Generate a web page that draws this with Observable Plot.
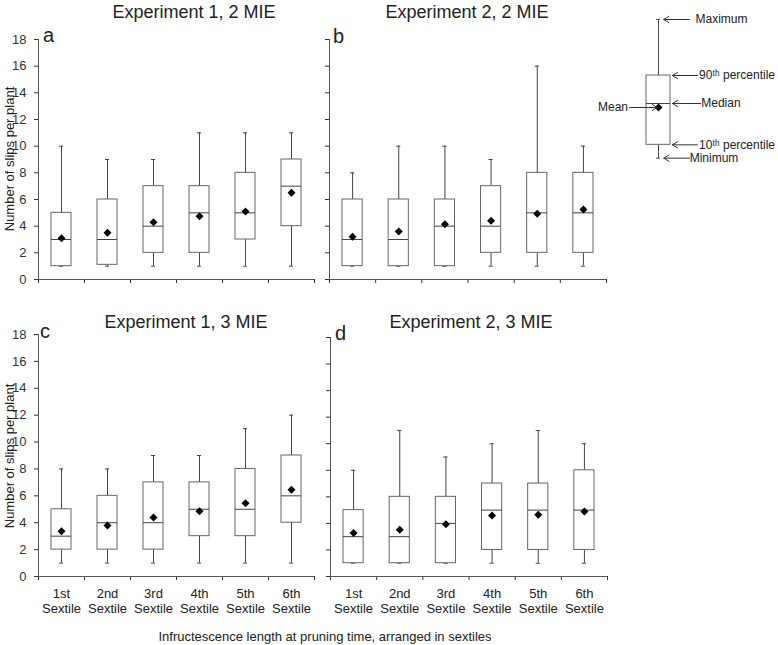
<!DOCTYPE html>
<html><head><meta charset="utf-8">
<script src="https://cdn.jsdelivr.net/npm/d3@7"></script>
<script src="https://cdn.jsdelivr.net/npm/@observablehq/plot@0.6"></script>
<style>
body{margin:0;background:#fff;}
#chart{position:relative;width:778px;height:645px;font-family:"Liberation Sans",Arial,sans-serif;color:#222;overflow:hidden;}
#chart > *{position:absolute;}
.lbl{white-space:nowrap;}
</style></head><body><div id="chart"></div>
<script>
// ---------- data ----------
const sextiles = ["1st", "2nd", "3rd", "4th", "5th", "6th"];
const yTicks = [0, 2, 4, 6, 8, 10, 12, 14, 16, 18];

// a: Experiment 1, 2 MIE
const aMin  = [1, 1, 1, 1, 1, 1];
const aP10  = [1, 1.1, 2, 2, 3, 4];
const aMed  = [3, 3, 4, 5, 5, 7];
const aP90  = [5, 6, 7, 7, 8, 9];
const aMax  = [10, 9, 9, 11, 11, 11];
const aMean = [3.1, 3.5, 4.3, 4.75, 5.1, 6.5];

// b: Experiment 2, 2 MIE
const bMin  = [1, 1, 1, 1, 1, 1];
const bP10  = [1, 1, 1, 2, 2, 2];
const bMed  = [3, 3, 4, 4, 5, 5];
const bP90  = [6, 6, 6, 7, 8, 8];
const bMax  = [8, 10, 10, 9, 16, 10];
const bMean = [3.2, 3.6, 4.15, 4.4, 4.93, 5.25];

// c: Experiment 1, 3 MIE
const cMin  = [1, 1, 1, 1, 1, 1];
const cP10  = [2, 2, 2, 3, 3, 4];
const cMed  = [3, 4, 4, 5, 5, 6];
const cP90  = [5, 6, 7, 7, 8, 9];
const cMax  = [8, 8, 9, 9, 11, 12];
const cMean = [3.37, 3.8, 4.38, 4.85, 5.45, 6.46];

// d: Experiment 2, 3 MIE
const dMin  = [1, 1, 1, 1, 1, 1];
const dP10  = [1, 1, 1, 2, 2, 2];
const dMed  = [3, 3, 4, 5, 5, 5];
const dP90  = [5, 6, 6, 7, 7, 8];
const dMax  = [8, 11, 9, 10, 11, 10];
const dMean = [3.28, 3.53, 3.93, 4.6, 4.65, 4.9];

const panelTitles = ["Experiment 1, 2 MIE", "Experiment 2, 2 MIE", "Experiment 1, 3 MIE", "Experiment 2, 3 MIE"];
const panelLetters = ["a", "b", "c", "d"];
const yTitle = "Number of slips per plant";
const xTitle = "Infructescence length at pruning time, arranged in sextiles";

// legend (schematic box)
const legendLabels = ["Maximum", "90ᵗʰ percentile", "Median", "10ᵗʰ percentile", "Minimum"];
const legendValues = [19.5, 15.3, 13.2, 10.1, 9.1];
const legendMean = 12.9;
const legendMeanLabel = "Mean";

// ---------- drawing ----------
const chart = document.getElementById("chart");
const axisColor = "#555";
const boxColor = "#666";
const whiskerColor = "#444";
const baseStyle = {fontFamily: "Liberation Sans, Arial, sans-serif", fontSize: "13px", color: "#333", background: "transparent", overflow: "visible"};

function panel(stats, cfg) {
  const rows = sextiles.map((s, i) => ({
    s, i, min: stats.min[i], p10: stats.p10[i], med: stats.med[i], p90: stats.p90[i], max: stats.max[i], mean: stats.mean[i]
  }));
  const lo = d => d.i, hi = d => d.i + 1, mid = d => d.i + 0.5;
  const marks = [
    Plot.ruleY([0], {stroke: axisColor}),
    Plot.ruleX([0], {stroke: axisColor}),
    Plot.ruleX(rows, {x: mid, y1: "min", y2: "p10", stroke: whiskerColor}),
    Plot.ruleX(rows, {x: mid, y1: "p90", y2: "max", stroke: whiskerColor}),
    Plot.ruleY(rows, {y: "max", x1: lo, x2: hi, insetLeft: 21, insetRight: 21, stroke: whiskerColor}),
    Plot.ruleY(rows, {y: "min", x1: lo, x2: hi, insetLeft: 21, insetRight: 21, stroke: whiskerColor}),
    Plot.rect(rows, {x1: lo, x2: hi, y1: "p10", y2: "p90", insetLeft: 13, insetRight: 13, fill: "white", stroke: boxColor}),
    Plot.ruleY(rows, {y: "med", x1: lo, x2: hi, insetLeft: 13, insetRight: 13, stroke: whiskerColor}),
    Plot.dot(rows, {x: mid, y: "mean", symbol: "diamond2", r: 3.6, fill: "black", stroke: "none"})
  ];
  if (cfg.xLabels) {
    marks.push(Plot.text(rows, {x: mid, text: d => d.s + "\nSextile", frameAnchor: "bottom", lineAnchor: "top", dy: 11, fontSize: 13, lineHeight: 1.15, fill: "#222"}));
  }
  const svg = Plot.plot({
    width: cfg.width, height: cfg.height,
    marginLeft: cfg.ml, marginRight: cfg.mr, marginTop: cfg.mt, marginBottom: cfg.mb,
    style: baseStyle,
    x: {domain: [0, 6], ticks: d3.range(7), tickSize: 4, tickFormat: () => "", label: null},
    y: {domain: [0, 18], ticks: yTicks, tickSize: 4, tickPadding: 8, tickFormat: cfg.yLabels ? d => String(d) : () => "", label: null},
    marks
  });
  svg.style.left = cfg.left + "px";
  svg.style.top = cfg.top + "px";
  chart.appendChild(svg);
}

panel({min: aMin, p10: aP10, med: aMed, p90: aP90, max: aMax, mean: aMean},
  {left: 0, top: 0, width: 320, height: 300, ml: 38, mr: 6, mt: 39, mb: 21, yLabels: true, xLabels: false});
panel({min: bMin, p10: bP10, med: bMed, p90: bP90, max: bMax, mean: bMean},
  {left: 320, top: 0, width: 300, height: 300, ml: 9, mr: 14, mt: 39, mb: 21, yLabels: false, xLabels: false});
panel({min: cMin, p10: cP10, med: cMed, p90: cP90, max: cMax, mean: cMean},
  {left: 0, top: 300, width: 320, height: 345, ml: 38, mr: 6, mt: 34, mb: 69, yLabels: true, xLabels: true});
panel({min: dMin, p10: dP10, med: dMed, p90: dP90, max: dMax, mean: dMean},
  {left: 320, top: 300, width: 300, height: 345, ml: 10, mr: 13, mt: 37, mb: 69, yLabels: false, xLabels: true});

// legend schematic
(function legend() {
  const box = {min: legendValues[4], p10: legendValues[3], med: legendValues[2], p90: legendValues[1], max: legendValues[0], mean: legendMean};
  const items = legendLabels.map((label, i) => ({label, value: legendValues[i], whisker: i === 0 || i === legendLabels.length - 1}));
  const svg = Plot.plot({
    width: 178, height: 175, margin: 0,
    style: {...baseStyle, fontSize: "12px"},
    x: {domain: [0, 1], range: [46, 70], axis: null},
    y: {domain: [0, 18], range: [279, 39], axis: null},
    marks: [
      Plot.ruleX([box], {x: 0.5, y1: "min", y2: "p10", stroke: whiskerColor}),
      Plot.ruleX([box], {x: 0.5, y1: "p90", y2: "max", stroke: whiskerColor}),
      Plot.ruleY([box], {y: "max", x1: 0.42, x2: 0.58, stroke: whiskerColor}),
      Plot.ruleY([box], {y: "min", x1: 0.42, x2: 0.58, stroke: whiskerColor}),
      Plot.rect([box], {x1: 0, x2: 1, y1: "p10", y2: "p90", fill: "white", stroke: boxColor}),
      Plot.ruleY([box], {y: "med", x1: 0, x2: 1, stroke: whiskerColor}),
      Plot.dot([box], {x: 0.5, y: "mean", symbol: "diamond2", r: 3.6, fill: "black", stroke: "none"}),
      Plot.arrow(items, {x1: d => d.whisker ? 1.79 : (d.label === "Median" ? 2.25 : 2.12), x2: d => d.whisker ? 0.72 : 1.08,
        y1: "value", y2: "value", stroke: "#333", strokeWidth: 1, headLength: 9, headAngle: 62}),
      Plot.arrow([box], {x1: -0.71, x2: 0.45, y1: "mean", y2: "mean", stroke: "#333", strokeWidth: 1, headLength: 9, headAngle: 62}),
      Plot.text(items, {x: d => d.whisker ? (d.label === "Maximum" ? 2.04 : 1.8) : (d.label === "Median" ? 2.28 : 2.19),
        y: "value", text: "label", textAnchor: "start", fill: "#222"}),
      Plot.text([box], {x: -0.77, y: "mean", text: () => legendMeanLabel, textAnchor: "end", fill: "#222"})
    ]
  });
  svg.style.left = "600px";
  svg.style.top = "0px";
  chart.appendChild(svg);
})();

// ---------- HTML text ----------
function addText(txt, x, baseline, size, anchor) {
  const el = document.createElement("div");
  el.className = "lbl";
  el.textContent = txt;
  el.style.fontSize = size + "px";
  el.style.lineHeight = size + "px";
  el.style.left = x + "px";
  el.style.top = (baseline - 0.85 * size) + "px";
  if (anchor === "middle") el.style.transform = "translateX(-50%)";
  chart.appendChild(el);
}
function addRotated(txt, cx, cy, size) {
  const el = document.createElement("div");
  el.className = "lbl";
  el.textContent = txt;
  el.style.fontSize = size + "px";
  el.style.lineHeight = size + "px";
  el.style.left = cx + "px";
  el.style.top = cy + "px";
  el.style.transform = "translate(-50%,-50%) rotate(-90deg)";
  chart.appendChild(el);
}
addText(panelTitles[0], 194, 18, 18, "middle");
addText(panelTitles[1], 467, 18, 18, "middle");
addText(panelTitles[2], 186, 328, 18, "middle");
addText(panelTitles[3], 471, 328, 18, "middle");
addText(panelLetters[0], 43, 42, 20, "start");
addText(panelLetters[1], 333, 43, 20, "start");
addText(panelLetters[2], 40, 338, 20, "start");
addText(panelLetters[3], 335, 340, 20, "start");
addRotated(yTitle, 9, 159, 13);
addRotated(yTitle, 9, 456, 13);
addText(xTitle, 325, 641, 13, "middle");
</script></body></html>
